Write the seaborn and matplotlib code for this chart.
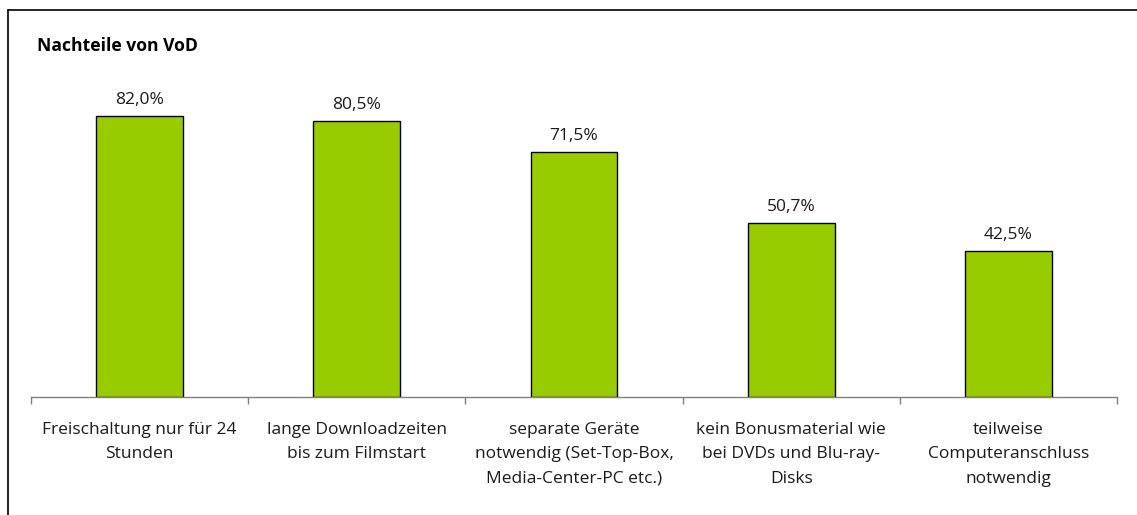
import matplotlib
matplotlib.use('Agg')
import matplotlib.pyplot as plt
import seaborn as sns
import pandas as pd
from matplotlib.lines import Line2D

categories = [
    'Freischaltung nur für 24\nStunden',
    'lange Downloadzeiten\nbis zum Filmstart',
    'separate Geräte\nnotwendig (Set-Top-Box,\nMedia-Center-PC etc.)',
    'kein Bonusmaterial wie\nbei DVDs und Blu-ray-\nDisks',
    'teilweise\nComputeranschluss\nnotwendig',
]
values = [82.0, 80.5, 71.5, 50.7, 42.5]
value_labels = ['82,0%', '80,5%', '71,5%', '50,7%', '42,5%']

sns.set_style('white')
plt.rcParams['font.family'] = ['Open Sans', 'DejaVu Sans']

df = pd.DataFrame({'kategorie': categories, 'wert': values})

fig = plt.figure(figsize=(11.37, 5.15), dpi=100)
ax = fig.add_axes([31 / 1137, 118 / 515, 1086 / 1137, 343 / 515])

sns.barplot(data=df, x='kategorie', y='wert', color='#99CC00',
            saturation=1, width=0.4, edgecolor='black', linewidth=1, ax=ax)

ax.set_xlim(-0.5, len(categories) - 0.5)
ax.set_ylim(0, 100)
ax.set_xlabel('')
ax.set_ylabel('')
ax.set_yticks([])

# bar values above the bars
for bar, lab in zip(ax.patches, value_labels):
    ax.text(bar.get_x() + bar.get_width() / 2, bar.get_height() + 2.3, lab,
            ha='center', va='bottom', fontsize=12.5, color='#1a1a1a')

for side in ['top', 'right', 'left']:
    ax.spines[side].set_visible(False)
ax.spines['bottom'].set_color('#808080')
ax.spines['bottom'].set_linewidth(1)

# tick marks between categories, labels centred under the bars
ax.set_xticks([i - 0.5 for i in range(len(categories) + 1)], minor=True)
ax.tick_params(axis='x', which='minor', length=5, width=1, color='#808080',
               direction='out', bottom=True)
ax.tick_params(axis='x', which='major', length=0, pad=18)
ax.set_xticklabels(categories, fontsize=12.5, color='#1a1a1a', linespacing=1.7)

fig.text(37 / 1137, 1 - 46 / 515, 'Nachteile von VoD', fontsize=12.6,
         fontweight='bold', ha='left', va='center', color='black')

# frame around the chart (left and top edges visible)
fig.add_artist(Line2D([7.5 / 1137, 7.5 / 1137], [0, 1 - 10 / 515],
                      transform=fig.transFigure, color='black', linewidth=1.2))
fig.add_artist(Line2D([7.5 / 1137, 1], [1 - 10 / 515, 1 - 10 / 515],
                      transform=fig.transFigure, color='black', linewidth=1.2))

fig.savefig('out.png', dpi=100)
